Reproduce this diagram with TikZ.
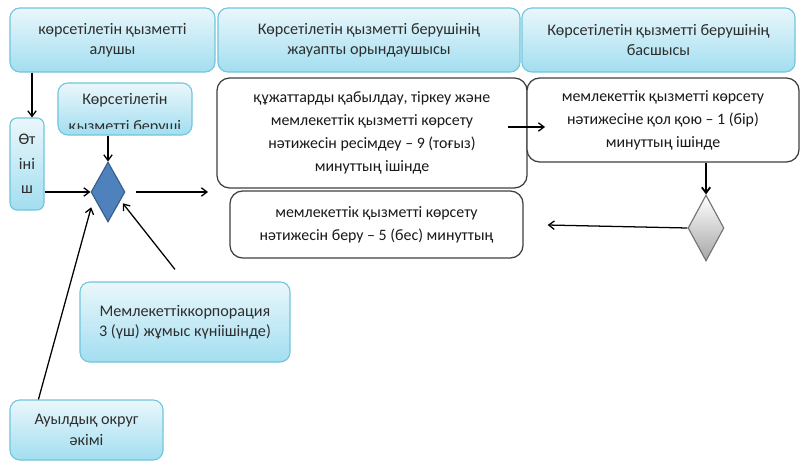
\documentclass[tikz,border=0pt]{standalone}
\usepackage{fontspec}
\setmainfont{Carlito}
\usetikzlibrary{arrows.meta,positioning,shapes.geometric}
\definecolor{hdrtop}{HTML}{EAF7FB}
\definecolor{hdrbot}{HTML}{A2DEF0}
\definecolor{hdrline}{HTML}{72C5DD}
\definecolor{hdrtext}{HTML}{2E2E2E}
\definecolor{dblue}{HTML}{4F81BD}
\definecolor{dblueline}{HTML}{385D8A}

\begin{document}
\begin{tikzpicture}[x=0.025cm,y=-0.025cm,every node/.style={font=\fontsize{11.5}{14.5}\selectfont},
  hdr/.style={draw=hdrline,line width=.8pt,rounded corners=7pt,top color=hdrtop,bottom color=hdrbot,text=hdrtext,align=center,inner sep=0pt},
  stepbox/.style={draw=black!75,line width=.9pt,rounded corners=9pt,fill=white,text=black!90,align=center,inner sep=0pt,font=\fontsize{11.3}{16.3}\selectfont},
  arr/.style={-{Straight Barb[length=4pt,width=6pt]},line width=.9pt}]
\useasboundingbox (0,0) rectangle (801,466);
% header row
\node[hdr,minimum width=5.125cm,minimum height=1.6cm] (hdr1) at (112.5,40) {көрсетілетін қызметті\\алушы};
\node[hdr,minimum width=7.55cm,minimum height=1.6cm] (hdr2) at (369,40) {Көрсетілетін қызметті берушінің\\жауапты орындаушысы};
\node[hdr,minimum width=6.825cm,minimum height=1.6cm] (hdr3) at (658.5,40) {Көрсетілетін қызметті берушінің\\басшысы};
% left column
\node[hdr,rounded corners=5pt,minimum width=0.85cm,minimum height=2.3cm] (otinish) at (27,164) {Өт\\[3pt]іні\\[3pt]ш};
\node[hdr,minimum width=3.35cm,minimum height=1.3cm] (beru) at (125,109) {};
\begin{scope}
\clip (60,85) rectangle (190,128);
\node[text=hdrtext,align=center] (berutext) at (125,114) {Көрсетілетін\\[5pt]қызметті беруші};
\end{scope}
\node[diamond,draw=dblueline,fill=dblue,line width=.8pt,minimum width=0.85cm,minimum height=1.5cm,inner sep=0pt] (bdia) at (108,192) {};
\node[hdr,minimum width=5.25cm,minimum height=2cm] (korp) at (185,322) {Мемлекеттіккорпорация\\3 (үш) жұмыс күніішінде)};
\node[hdr,minimum width=3.825cm,minimum height=1.5cm] (auyl) at (86.5,430) {Ауылдық округ\\әкімі};
% steps
\node[stepbox,minimum width=7.75cm,minimum height=2.75cm] (step1) at (372,133) {құжаттарды қабылдау, тіркеу және\\мемлекеттік қызметті көрсету\\нәтижесін ресімдеу – 9 (тоғыз)\\минуттың ішінде};
\node[stepbox,minimum width=6.8cm,minimum height=2.1cm] (step2) at (663,120) {мемлекеттік қызметті көрсету\\нәтижесіне қол қою – 1 (бір)\\минуттың ішінде};
\node[stepbox,minimum width=7.325cm,minimum height=1.675cm] (step3) at (376.5,224.5) {мемлекеттік қызметті көрсету\\нәтижесін беру – 5 (бес) минуттың};
\node[diamond,draw=black!55,top color=white,bottom color=black!35,line width=.8pt,minimum width=0.9cm,minimum height=1.65cm,inner sep=0pt] (gdia) at (706,228) {};
% connectors
\coordinate (out1) at (208,192);
\coordinate (m1) at (508,127);
\coordinate (m2) at (545,127);
\draw[arr] ([xshift=0.125cm]hdr1.south -| otinish.north) -- ([xshift=0.125cm]otinish.north);
\draw[arr] (beru.south -| bdia.north) -- (bdia.north);
\draw[arr] (otinish.east |- bdia.west) -- (bdia.west);
\draw[arr,shorten <=0.25cm] (bdia.east) -- (out1);
\draw[arr] ([xshift=0.725cm]auyl.north west) -- ([xshift=-0.2cm]bdia.south west);
\draw[arr] ([xshift=-0.25cm,yshift=0.3cm]korp.north) -- ([xshift=0.15cm,yshift=0.1cm]bdia.south east);
\draw[arr] (m1) -- (m2);
\draw[arr,line width=1.3pt] (step2.south -| gdia.north) -- (gdia.north);
\draw[arr,shorten >=0.6cm] (gdia.west) -- (step3.east);
\end{tikzpicture}
\end{document}
